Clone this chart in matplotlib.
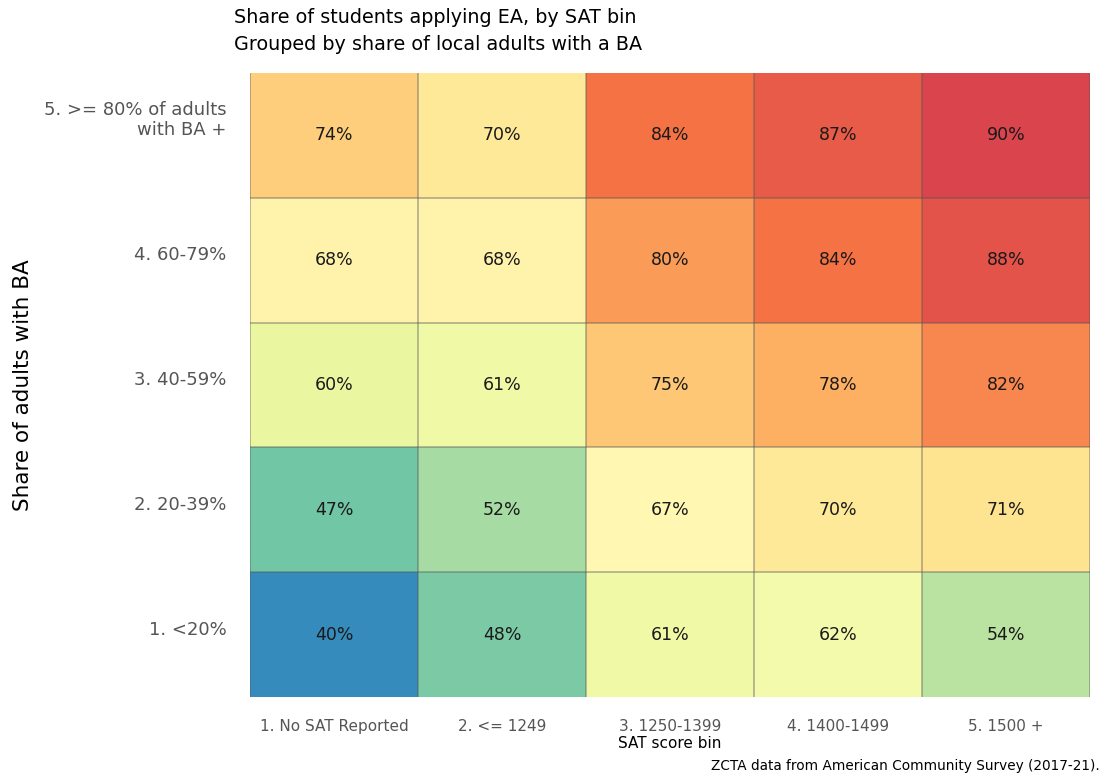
import matplotlib
matplotlib.use("Agg")
import matplotlib.pyplot as plt
import numpy as np

# ================= DATOS =================
sat_bins = ["1. No SAT Reported", "2. <= 1249", "3. 1250-1399", "4. 1400-1499", "5. 1500 +"]
ba_bins = ["5. >= 80% of adults\nwith BA +", "4. 60-79%", "3. 40-59%", "2. 20-39%", "1. <20%"]

# filas de arriba hacia abajo (5 -> 1)
fila_5 = [74, 70, 84, 87, 90]
fila_4 = [68, 68, 80, 84, 88]
fila_3 = [60, 61, 75, 78, 82]
fila_2 = [47, 52, 67, 70, 71]
fila_1 = [40, 48, 61, 62, 54]

valores = np.array([fila_5, fila_4, fila_3, fila_2, fila_1])

# ================= GRAFICO =================
fig = plt.figure(figsize=(11.1, 7.78), dpi=100)
ax = fig.add_axes([250 / 1110, 1 - 697 / 778, 840 / 1110, 624 / 778])

n_filas, n_cols = valores.shape
ax.pcolormesh(np.arange(n_cols + 1), np.arange(n_filas + 1), valores[::-1],
              cmap="Spectral_r", vmin=33, vmax=97.5)

for i in range(n_filas):
    for j in range(n_cols):
        ax.text(j + 0.5, n_filas - i - 0.5, "{}%".format(valores[i, j]),
                ha="center", va="center", fontsize=12.5, color="#1a1a1a")

# lineas de separacion
for x in range(n_cols + 1):
    ax.axvline(x, color="#555555", alpha=0.45, lw=1.2)
for y in range(1, n_filas):
    ax.axhline(y, color="#555555", alpha=0.45, lw=1.2)

ax.set_xlim(0, n_cols)
ax.set_ylim(0, n_filas)
ax.set_xticks(np.arange(n_cols) + 0.5)
ax.set_xticklabels(sat_bins, fontsize=11, color="#555555")
ax.set_yticks(np.arange(n_filas) + 0.5)
ax.set_yticklabels(ba_bins[::-1], fontsize=13, color="#555555", va="baseline")
ax.tick_params(axis="both", length=0)
ax.tick_params(axis="x", pad=15.5)
ax.tick_params(axis="y", pad=17)
for s in ax.spines.values():
    s.set_visible(False)

ax.set_xlabel("SAT score bin", fontsize=11, labelpad=1.5)
ax.set_ylabel("Share of adults with BA", fontsize=15.5)
ax.yaxis.set_label_coords(-0.258, 0.5)

fig.text(234 / 1110, 1 - 8 / 778, "Share of students applying EA, by SAT bin\nGrouped by share of local adults with a BA",
         ha="left", va="top", fontsize=13.8, linespacing=1.5)
fig.text(1100 / 1110, 1 - 766 / 778, "ZCTA data from American Community Survey (2017-21).",
         ha="right", va="center", fontsize=9.8)

fig.savefig("out.png", dpi=100)
